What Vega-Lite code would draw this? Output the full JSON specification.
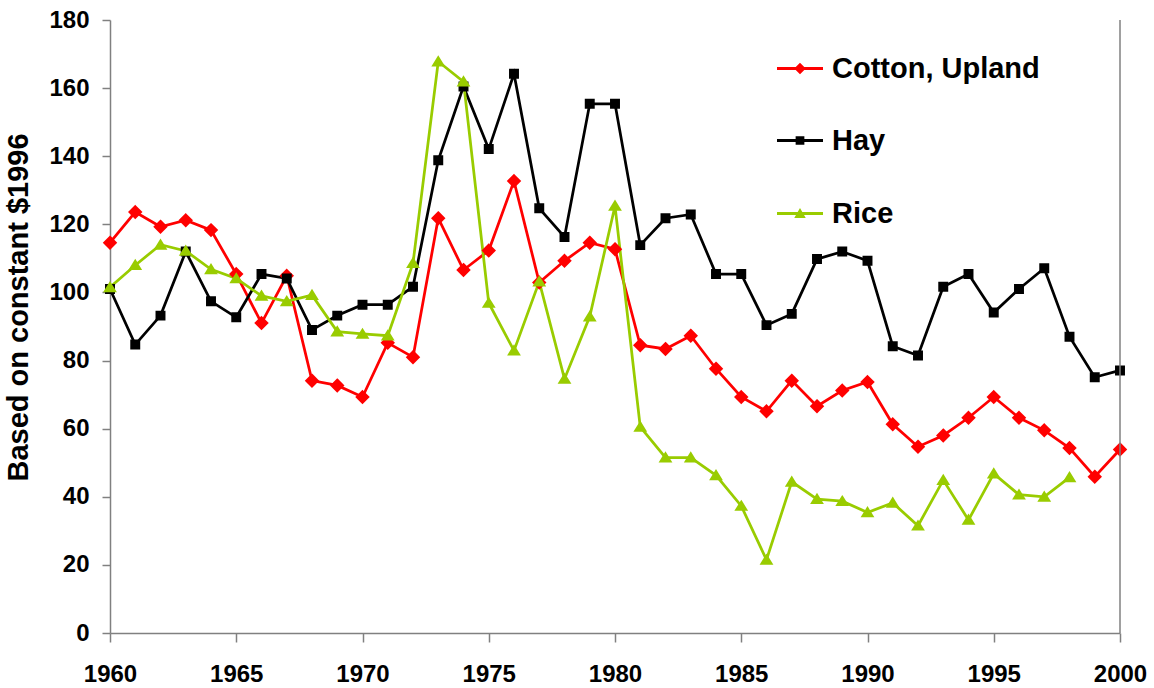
{
  "$schema": "https://vega.github.io/schema/vega-lite/v6.json",
  "width": 1010,
  "height": 613,
  "autosize": {"type": "none"},
  "padding": {"left": 110, "top": 20, "right": 34, "bottom": 55},
  "background": "white",
  "config": {
    "view": {"stroke": null},
    "font": "Liberation Sans",
    "legend": {
      "orient": "none", "title": null, "padding": 0,
      "labelFont": "Liberation Sans", "labelFontSize": 29, "labelFontWeight": "bold", "labelColor": "black",
      "labelLimit": 400, "labelOffset": 7.5,
      "symbolSize": 2116, "symbolStrokeWidth": 2.5, "symbolOpacity": 1
    }
  },
  "datasets": {"prices": [
    {"year": 1960, "crop": "Cotton, Upland", "value": 114.6},
    {"year": 1961, "crop": "Cotton, Upland", "value": 123.6},
    {"year": 1962, "crop": "Cotton, Upland", "value": 119.3},
    {"year": 1963, "crop": "Cotton, Upland", "value": 121.2},
    {"year": 1964, "crop": "Cotton, Upland", "value": 118.3},
    {"year": 1965, "crop": "Cotton, Upland", "value": 105.4},
    {"year": 1966, "crop": "Cotton, Upland", "value": 91.0},
    {"year": 1967, "crop": "Cotton, Upland", "value": 104.9},
    {"year": 1968, "crop": "Cotton, Upland", "value": 74.1},
    {"year": 1969, "crop": "Cotton, Upland", "value": 72.7},
    {"year": 1970, "crop": "Cotton, Upland", "value": 69.3},
    {"year": 1971, "crop": "Cotton, Upland", "value": 85.2},
    {"year": 1972, "crop": "Cotton, Upland", "value": 81.0},
    {"year": 1973, "crop": "Cotton, Upland", "value": 121.8},
    {"year": 1974, "crop": "Cotton, Upland", "value": 106.6},
    {"year": 1975, "crop": "Cotton, Upland", "value": 112.3},
    {"year": 1976, "crop": "Cotton, Upland", "value": 132.7},
    {"year": 1977, "crop": "Cotton, Upland", "value": 102.9},
    {"year": 1978, "crop": "Cotton, Upland", "value": 109.3},
    {"year": 1979, "crop": "Cotton, Upland", "value": 114.6},
    {"year": 1980, "crop": "Cotton, Upland", "value": 112.7},
    {"year": 1981, "crop": "Cotton, Upland", "value": 84.5},
    {"year": 1982, "crop": "Cotton, Upland", "value": 83.4},
    {"year": 1983, "crop": "Cotton, Upland", "value": 87.3},
    {"year": 1984, "crop": "Cotton, Upland", "value": 77.6},
    {"year": 1985, "crop": "Cotton, Upland", "value": 69.3},
    {"year": 1986, "crop": "Cotton, Upland", "value": 65.1},
    {"year": 1987, "crop": "Cotton, Upland", "value": 74.1},
    {"year": 1988, "crop": "Cotton, Upland", "value": 66.6},
    {"year": 1989, "crop": "Cotton, Upland", "value": 71.2},
    {"year": 1990, "crop": "Cotton, Upland", "value": 73.7},
    {"year": 1991, "crop": "Cotton, Upland", "value": 61.3},
    {"year": 1992, "crop": "Cotton, Upland", "value": 54.7},
    {"year": 1993, "crop": "Cotton, Upland", "value": 58.0},
    {"year": 1994, "crop": "Cotton, Upland", "value": 63.2},
    {"year": 1995, "crop": "Cotton, Upland", "value": 69.3},
    {"year": 1996, "crop": "Cotton, Upland", "value": 63.2},
    {"year": 1997, "crop": "Cotton, Upland", "value": 59.5},
    {"year": 1998, "crop": "Cotton, Upland", "value": 54.3},
    {"year": 1999, "crop": "Cotton, Upland", "value": 45.9},
    {"year": 2000, "crop": "Cotton, Upland", "value": 53.9},
    {"year": 1960, "crop": "Hay", "value": 101.0},
    {"year": 1961, "crop": "Hay", "value": 84.7},
    {"year": 1962, "crop": "Hay", "value": 93.2},
    {"year": 1963, "crop": "Hay", "value": 112.0},
    {"year": 1964, "crop": "Hay", "value": 97.4},
    {"year": 1965, "crop": "Hay", "value": 92.7},
    {"year": 1966, "crop": "Hay", "value": 105.4},
    {"year": 1967, "crop": "Hay", "value": 104.1},
    {"year": 1968, "crop": "Hay", "value": 89.0},
    {"year": 1969, "crop": "Hay", "value": 93.2},
    {"year": 1970, "crop": "Hay", "value": 96.4},
    {"year": 1971, "crop": "Hay", "value": 96.4},
    {"year": 1972, "crop": "Hay", "value": 101.7},
    {"year": 1973, "crop": "Hay", "value": 138.8},
    {"year": 1974, "crop": "Hay", "value": 160.5},
    {"year": 1975, "crop": "Hay", "value": 142.1},
    {"year": 1976, "crop": "Hay", "value": 164.2},
    {"year": 1977, "crop": "Hay", "value": 124.7},
    {"year": 1978, "crop": "Hay", "value": 116.3},
    {"year": 1979, "crop": "Hay", "value": 155.4},
    {"year": 1980, "crop": "Hay", "value": 155.4},
    {"year": 1981, "crop": "Hay", "value": 113.9},
    {"year": 1982, "crop": "Hay", "value": 121.8},
    {"year": 1983, "crop": "Hay", "value": 122.9},
    {"year": 1984, "crop": "Hay", "value": 105.4},
    {"year": 1985, "crop": "Hay", "value": 105.4},
    {"year": 1986, "crop": "Hay", "value": 90.4},
    {"year": 1987, "crop": "Hay", "value": 93.7},
    {"year": 1988, "crop": "Hay", "value": 109.8},
    {"year": 1989, "crop": "Hay", "value": 112.0},
    {"year": 1990, "crop": "Hay", "value": 109.3},
    {"year": 1991, "crop": "Hay", "value": 84.2},
    {"year": 1992, "crop": "Hay", "value": 81.5},
    {"year": 1993, "crop": "Hay", "value": 101.7},
    {"year": 1994, "crop": "Hay", "value": 105.4},
    {"year": 1995, "crop": "Hay", "value": 94.1},
    {"year": 1996, "crop": "Hay", "value": 101.0},
    {"year": 1997, "crop": "Hay", "value": 107.1},
    {"year": 1998, "crop": "Hay", "value": 87.0},
    {"year": 1999, "crop": "Hay", "value": 75.1},
    {"year": 2000, "crop": "Hay", "value": 77.1},
    {"year": 1960, "crop": "Rice", "value": 101.5},
    {"year": 1961, "crop": "Rice", "value": 108.0},
    {"year": 1962, "crop": "Rice", "value": 114.0},
    {"year": 1963, "crop": "Rice", "value": 112.2},
    {"year": 1964, "crop": "Rice", "value": 106.8},
    {"year": 1965, "crop": "Rice", "value": 104.1},
    {"year": 1966, "crop": "Rice", "value": 99.0},
    {"year": 1967, "crop": "Rice", "value": 97.4},
    {"year": 1968, "crop": "Rice", "value": 99.2},
    {"year": 1969, "crop": "Rice", "value": 88.5},
    {"year": 1970, "crop": "Rice", "value": 87.8},
    {"year": 1971, "crop": "Rice", "value": 87.3},
    {"year": 1972, "crop": "Rice", "value": 108.6},
    {"year": 1973, "crop": "Rice", "value": 167.8},
    {"year": 1974, "crop": "Rice", "value": 161.9},
    {"year": 1975, "crop": "Rice", "value": 96.9},
    {"year": 1976, "crop": "Rice", "value": 82.9},
    {"year": 1977, "crop": "Rice", "value": 103.2},
    {"year": 1978, "crop": "Rice", "value": 74.6},
    {"year": 1979, "crop": "Rice", "value": 92.9},
    {"year": 1980, "crop": "Rice", "value": 125.4},
    {"year": 1981, "crop": "Rice", "value": 60.5},
    {"year": 1982, "crop": "Rice", "value": 51.5},
    {"year": 1983, "crop": "Rice", "value": 51.5},
    {"year": 1984, "crop": "Rice", "value": 46.3},
    {"year": 1985, "crop": "Rice", "value": 37.3},
    {"year": 1986, "crop": "Rice", "value": 21.5},
    {"year": 1987, "crop": "Rice", "value": 44.4},
    {"year": 1988, "crop": "Rice", "value": 39.3},
    {"year": 1989, "crop": "Rice", "value": 38.7},
    {"year": 1990, "crop": "Rice", "value": 35.4},
    {"year": 1991, "crop": "Rice", "value": 38.2},
    {"year": 1992, "crop": "Rice", "value": 31.5},
    {"year": 1993, "crop": "Rice", "value": 44.9},
    {"year": 1994, "crop": "Rice", "value": 33.2},
    {"year": 1995, "crop": "Rice", "value": 46.8},
    {"year": 1996, "crop": "Rice", "value": 40.6},
    {"year": 1997, "crop": "Rice", "value": 40.0},
    {"year": 1998, "crop": "Rice", "value": 45.7}
  ]},
  "data": {"name": "prices"},
  "resolve": {"scale": {"opacity": "independent"}, "legend": {"opacity": "independent"}},
  "layer": [
    {
      "mark": {"type": "line", "strokeWidth": 2.75},
      "encoding": {
        "x": {
          "field": "year", "type": "quantitative",
          "scale": {"domain": [1960, 2000], "nice": false, "zero": false},
          "axis": {
            "title": null,
            "values": [1960, 1965, 1970, 1975, 1980, 1985, 1990, 1995, 2000],
            "format": "d",
            "grid": false,
            "labelFont": "Liberation Sans", "labelFontWeight": "bold", "labelFontSize": 24, "labelColor": "black",
            "labelFlush": false, "labelOverlap": false,
            "tickSize": 9, "tickColor": "#808080", "tickWidth": 1.5,
            "domainColor": "#808080", "domainWidth": 1.5,
            "labelPadding": 20
          }
        },
        "y": {
          "field": "value", "type": "quantitative",
          "scale": {"domain": [0, 180], "nice": false},
          "axis": {
            "title": "Based on constant $1996",
            "titleFont": "Liberation Sans", "titleFontWeight": "bold", "titleFontSize": 29, "titleColor": "black",
            "titleX": -92, "titleY": 287, "titleAngle": -90, "titleAlign": "center", "titleBaseline": "middle",
            "values": [0, 20, 40, 60, 80, 100, 120, 140, 160, 180],
            "grid": false,
            "labelFont": "Liberation Sans", "labelFontWeight": "bold", "labelFontSize": 24, "labelColor": "black",
            "labelFlush": false, "labelOverlap": false,
            "tickSize": 8, "tickColor": "#808080", "tickWidth": 1.5,
            "domainColor": "#808080", "domainWidth": 1.5,
            "labelPadding": 13
          }
        },
        "color": {
          "field": "crop", "type": "nominal",
          "scale": {"domain": ["Cotton, Upland", "Hay", "Rice"], "range": ["#FF0000", "#000000", "#99CC00"]},
          "legend": null
        }
      }
    },
    {
      "transform": [{"filter": "datum.crop == 'Cotton, Upland'"}],
      "mark": {"type": "point", "filled": false, "shape": "M0,-1L1,0L0,1L-1,0Z", "size": 120, "fill": "#FF0000", "stroke": "#FF0000", "strokeWidth": 2.5},
      "encoding": {
        "x": {"field": "year", "type": "quantitative"},
        "y": {"field": "value", "type": "quantitative"},
        "opacity": {
          "field": "crop", "type": "nominal",
          "scale": {"type": "point", "domain": ["Cotton, Upland"], "range": [1, 1]},
          "legend": {"legendX": 665.5, "legendY": 24, "symbolType": "M-1,-0.06L1,-0.06L1,0.06L-1,0.06ZM0,-0.25L0.25,0L0,0.25L-0.25,0Z", "symbolFillColor": "#FF0000", "symbolStrokeColor": "#FF0000"}
        }
      }
    },
    {
      "transform": [{"filter": "datum.crop == 'Hay'"}],
      "mark": {"type": "point", "filled": false, "shape": "M-0.68,-0.68L0.68,-0.68L0.68,0.68L-0.68,0.68Z", "size": 120, "fill": "#000000", "stroke": "#000000", "strokeWidth": 2.5},
      "encoding": {
        "x": {"field": "year", "type": "quantitative"},
        "y": {"field": "value", "type": "quantitative"},
        "opacity": {
          "field": "crop", "type": "nominal",
          "scale": {"type": "point", "domain": ["Hay"], "range": [1, 1]},
          "legend": {"legendX": 665.5, "legendY": 96, "symbolType": "M-1,-0.06L1,-0.06L1,0.06L-1,0.06ZM-0.19,-0.19L0.19,-0.19L0.19,0.19L-0.19,0.19Z", "symbolFillColor": "#000000", "symbolStrokeColor": "#000000"}
        }
      }
    },
    {
      "transform": [{"filter": "datum.crop == 'Rice'"}],
      "mark": {"type": "point", "filled": false, "shape": "M0,-0.72L0.85,0.66L-0.85,0.66Z", "size": 120, "fill": "#99CC00", "stroke": "#99CC00", "strokeWidth": 2.5},
      "encoding": {
        "x": {"field": "year", "type": "quantitative"},
        "y": {"field": "value", "type": "quantitative"},
        "opacity": {
          "field": "crop", "type": "nominal",
          "scale": {"type": "point", "domain": ["Rice"], "range": [1, 1]},
          "legend": {"legendX": 665.5, "legendY": 169, "symbolType": "M-1,-0.06L1,-0.06L1,0.06L-1,0.06ZM0,-0.24L0.25,0.2L-0.25,0.2Z", "symbolFillColor": "#99CC00", "symbolStrokeColor": "#99CC00"}
        }
      }
    },
    {
      "data": {"values": [{}]},
      "mark": {"type": "rule", "color": "#808080", "strokeWidth": 1.5},
      "encoding": {"x": {"datum": 2000, "type": "quantitative"}}
    }
  ]
}
